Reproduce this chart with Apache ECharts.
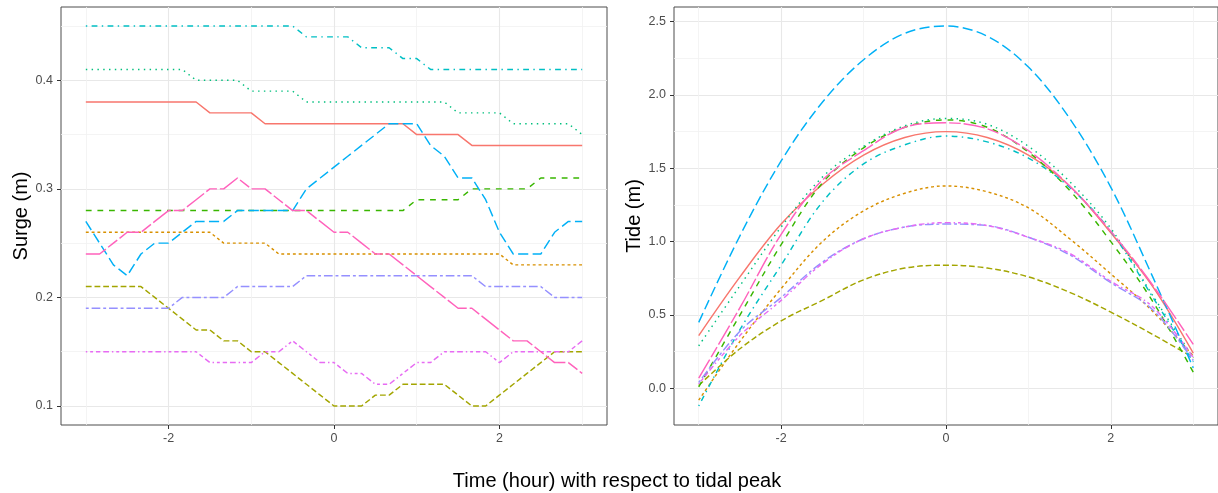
<!DOCTYPE html>
<html>
<head>
<meta charset="utf-8">
<script src="https://cdn.jsdelivr.net/npm/echarts@6/dist/echarts.min.js"></script>
<style>
  html, body { margin: 0; padding: 0; background: #ffffff; }
  #chart { width: 1218px; height: 493px; }
</style>
</head>
<body>
<div id="chart"></div>
<script>
// ---- data -------------------------------------------------------------
// Surge samples every 10 minutes, from 3 h before to 3 h after the tidal peak
const surgeMinutes = [-180, -170, -160, -150, -140, -130, -120, -110, -100, -90,
  -80, -70, -60, -50, -40, -30, -20, -10, 0, 10, 20, 30, 40, 50, 60, 70, 80, 90,
  100, 110, 120, 130, 140, 150, 160, 170, 180];

const surge1 = [0.38,0.38,0.38,0.38,0.38,0.38,0.38,0.38,0.38,0.37,0.37,0.37,0.37,0.36,0.36,0.36,0.36,0.36,0.36,0.36,0.36,0.36,0.36,0.36,0.35,0.35,0.35,0.35,0.34,0.34,0.34,0.34,0.34,0.34,0.34,0.34,0.34];
const surge2 = [0.26,0.26,0.26,0.26,0.26,0.26,0.26,0.26,0.26,0.26,0.25,0.25,0.25,0.25,0.24,0.24,0.24,0.24,0.24,0.24,0.24,0.24,0.24,0.24,0.24,0.24,0.24,0.24,0.24,0.24,0.24,0.23,0.23,0.23,0.23,0.23,0.23];
const surge3 = [0.21,0.21,0.21,0.21,0.21,0.20,0.19,0.18,0.17,0.17,0.16,0.16,0.15,0.15,0.14,0.13,0.12,0.11,0.10,0.10,0.10,0.11,0.11,0.12,0.12,0.12,0.12,0.11,0.10,0.10,0.11,0.12,0.13,0.14,0.15,0.15,0.15];
const surge4 = [0.28,0.28,0.28,0.28,0.28,0.28,0.28,0.28,0.28,0.28,0.28,0.28,0.28,0.28,0.28,0.28,0.28,0.28,0.28,0.28,0.28,0.28,0.28,0.28,0.29,0.29,0.29,0.29,0.30,0.30,0.30,0.30,0.30,0.31,0.31,0.31,0.31];
const surge5 = [0.41,0.41,0.41,0.41,0.41,0.41,0.41,0.41,0.40,0.40,0.40,0.40,0.39,0.39,0.39,0.39,0.38,0.38,0.38,0.38,0.38,0.38,0.38,0.38,0.38,0.38,0.38,0.37,0.37,0.37,0.37,0.36,0.36,0.36,0.36,0.36,0.35];
const surge6 = [0.45,0.45,0.45,0.45,0.45,0.45,0.45,0.45,0.45,0.45,0.45,0.45,0.45,0.45,0.45,0.45,0.44,0.44,0.44,0.44,0.43,0.43,0.43,0.42,0.42,0.41,0.41,0.41,0.41,0.41,0.41,0.41,0.41,0.41,0.41,0.41,0.41];
const surge7 = [0.27,0.25,0.23,0.22,0.24,0.25,0.25,0.26,0.27,0.27,0.27,0.28,0.28,0.28,0.28,0.28,0.30,0.31,0.32,0.33,0.34,0.35,0.36,0.36,0.36,0.34,0.33,0.31,0.31,0.29,0.26,0.24,0.24,0.24,0.26,0.27,0.27];
const surge8 = [0.19,0.19,0.19,0.19,0.19,0.19,0.19,0.20,0.20,0.20,0.20,0.21,0.21,0.21,0.21,0.21,0.22,0.22,0.22,0.22,0.22,0.22,0.22,0.22,0.22,0.22,0.22,0.22,0.22,0.21,0.21,0.21,0.21,0.21,0.20,0.20,0.20];
const surge9 = [0.15,0.15,0.15,0.15,0.15,0.15,0.15,0.15,0.15,0.14,0.14,0.14,0.14,0.15,0.15,0.16,0.15,0.14,0.14,0.13,0.13,0.12,0.12,0.13,0.14,0.14,0.15,0.15,0.15,0.15,0.14,0.15,0.15,0.15,0.15,0.15,0.16];
const surge10 = [0.24,0.24,0.25,0.26,0.26,0.27,0.28,0.28,0.29,0.30,0.30,0.31,0.30,0.30,0.29,0.28,0.28,0.27,0.26,0.26,0.25,0.24,0.24,0.23,0.22,0.21,0.20,0.19,0.19,0.18,0.17,0.16,0.16,0.15,0.14,0.14,0.13];

// Tide level every half hour
const tideHours = [-3, -2.5, -2, -1.5, -1, -0.5, 0, 0.5, 1, 1.5, 2, 2.5, 3];

const tide1  = [0.36, 0.76, 1.12, 1.39, 1.59, 1.71, 1.75, 1.71, 1.59, 1.38, 1.06, 0.70, 0.24];
const tide2  = [-0.08, 0.32, 0.68, 1.00, 1.21, 1.33, 1.38, 1.34, 1.23, 1.02, 0.78, 0.53, 0.22];
const tide3  = [0.02, 0.27, 0.46, 0.60, 0.74, 0.82, 0.84, 0.82, 0.76, 0.655, 0.52, 0.37, 0.21];
const tide4  = [0.01, 0.50, 0.98, 1.40, 1.64, 1.78, 1.83, 1.78, 1.61, 1.35, 1.00, 0.60, 0.11];
const tide5  = [0.29, 0.70, 1.10, 1.44, 1.65, 1.79, 1.84, 1.80, 1.65, 1.41, 1.09, 0.64, 0.21];
const tide6  = [-0.12, 0.40, 0.84, 1.27, 1.53, 1.66, 1.72, 1.68, 1.57, 1.37, 1.07, 0.63, 0.18];
const tide7  = [0.45, 1.04, 1.55, 1.95, 2.24, 2.42, 2.47, 2.40, 2.19, 1.84, 1.37, 0.77, 0.14];
const tide8  = [0.04, 0.39, 0.62, 0.86, 1.02, 1.10, 1.12, 1.11, 1.03, 0.91, 0.72, 0.54, 0.19];
const tide9  = [0.03, 0.36, 0.60, 0.85, 1.02, 1.10, 1.13, 1.11, 1.03, 0.92, 0.73, 0.56, 0.21];
const tide10 = [0.07, 0.55, 1.05, 1.42, 1.62, 1.78, 1.81, 1.77, 1.62, 1.38, 1.07, 0.71, 0.30];

// Axis breaks
const timeBreaks = [-2, 0, 2];
const timeMinorBreaks = [-3, -1, 1, 3];
const surgeBreaks = [0.1, 0.2, 0.3, 0.4];
const surgeMinorBreaks = [0.15, 0.25, 0.35, 0.45];
const tideBreaks = [0, 0.5, 1.0, 1.5, 2.0, 2.5];
const tideMinorBreaks = [0.25, 0.75, 1.25, 1.75, 2.25];

// ---- styling ----------------------------------------------------------
const surgeSets = [surge1, surge2, surge3, surge4, surge5, surge6, surge7, surge8, surge9, surge10];
const tideSets = [tide1, tide2, tide3, tide4, tide5, tide6, tide7, tide8, tide9, tide10];

const palette = ['#F8766D', '#D89000', '#A3A500', '#39B600', '#00BF7D',
                 '#00BFC4', '#00B0F6', '#9590FF', '#E76BF3', '#FF62BC'];
// R line types: solid, 22, 42, 44, 13, 1343, 73, 2262, 12223242, F282
const u = 1.45;
const dashCodes = [null, '22', '42', '44', '13', '1343', '73', '2262', '12223242', 'F282'];
const dashOf = code => code === null ? 'solid'
  : code.split('').map(c => parseInt(c, 16) * u);

const FONT = '"Liberation Sans", Arial, Helvetica, sans-serif';
const LABEL_COLOR = '#4d4d4d';
const LINE_WIDTH = 1.45;

const hours = surgeMinutes.map(m => m / 60);
const zip = (xs, ys) => xs.map((x, i) => [x, ys[i]]);
const fmt1 = v => Number(v).toFixed(1);
const fmtInt = v => String(Math.round(v));

function majorAxis(gridIndex, min, max, breaks, formatter, extra) {
  return Object.assign({
    type: 'value', gridIndex, min, max,
    axisLine: { show: false, onZero: false },
    axisTick: { show: true, length: 4, customValues: breaks,
                lineStyle: { color: '#333333', width: 1 } },
    axisLabel: { show: true, customValues: breaks, formatter,
                 color: LABEL_COLOR, fontSize: 12.5, fontFamily: FONT },
    splitLine: { show: true, lineStyle: { color: '#e8e8e8', width: 1.1 } },
    minorTick: { show: false }, minorSplitLine: { show: false }
  }, extra || {});
}
function minorAxis(gridIndex, min, max, breaks) {
  return {
    type: 'value', gridIndex, min, max,
    axisLine: { show: false, onZero: false },
    axisTick: { show: false, customValues: breaks },
    axisLabel: { show: false, customValues: breaks },
    splitLine: { show: true, lineStyle: { color: '#f1f1f1', width: 0.8 } }
  };
}

const nameStyle = { fontSize: 20, color: '#000000', fontFamily: FONT };
const timeLabel = { show: true, customValues: timeBreaks, formatter: fmtInt,
                    color: LABEL_COLOR, fontSize: 12.5, fontFamily: FONT, margin: 7 };

const series = [];
surgeSets.forEach((ys, k) => series.push({
  type: 'line', name: 'Event ' + (k + 1), xAxisIndex: 0, yAxisIndex: 0,
  data: zip(hours, ys), showSymbol: false, symbol: 'none', smooth: false,
  lineStyle: { color: palette[k], width: LINE_WIDTH, type: dashOf(dashCodes[k]), cap: 'butt' },
  silent: true, animation: false
}));
tideSets.forEach((ys, k) => series.push({
  type: 'line', name: 'Event ' + (k + 1), xAxisIndex: 2, yAxisIndex: 2,
  data: zip(tideHours, ys), showSymbol: false, symbol: 'none', smooth: 0.35,
  lineStyle: { color: palette[k], width: LINE_WIDTH, type: dashOf(dashCodes[k]), cap: 'butt' },
  silent: true, animation: false
}));

const chart = echarts.init(document.getElementById('chart'), null, { renderer: 'canvas' });
chart.setOption({
  backgroundColor: '#ffffff',
  animation: false,
  grid: [
    { left: 61, top: 7, width: 546, height: 418, show: true,
      backgroundColor: 'transparent', borderColor: '#4d4d4d', borderWidth: 1, containLabel: false },
    { left: 674, top: 7, width: 548, height: 418, show: true,
      backgroundColor: 'transparent', borderColor: '#4d4d4d', borderWidth: 1, containLabel: false }
  ],
  xAxis: [
    majorAxis(0, -3.3, 3.3, timeBreaks, fmtInt, { axisLabel: timeLabel }),
    minorAxis(0, -3.3, 3.3, timeMinorBreaks),
    majorAxis(1, -3.3, 3.3, timeBreaks, fmtInt, { axisLabel: timeLabel }),
    minorAxis(1, -3.3, 3.3, timeMinorBreaks)
  ],
  yAxis: [
    majorAxis(0, 0.0825, 0.4675, surgeBreaks, fmt1,
      { name: 'Surge (m)', nameLocation: 'middle', nameGap: 30, nameTextStyle: nameStyle }),
    minorAxis(0, 0.0825, 0.4675, surgeMinorBreaks),
    majorAxis(1, -0.2495, 2.5995, tideBreaks, fmt1,
      { name: 'Tide (m)', nameLocation: 'middle', nameGap: 30, nameTextStyle: nameStyle }),
    minorAxis(1, -0.2495, 2.5995, tideMinorBreaks)
  ],
  graphic: [{
    type: 'text', x: 617, y: 481, silent: true,
    style: { text: 'Time (hour) with respect to tidal peak', fill: '#000000',
             font: '20px ' + FONT, align: 'center', verticalAlign: 'middle' }
  }],
  series
});
</script>
</body>
</html>
